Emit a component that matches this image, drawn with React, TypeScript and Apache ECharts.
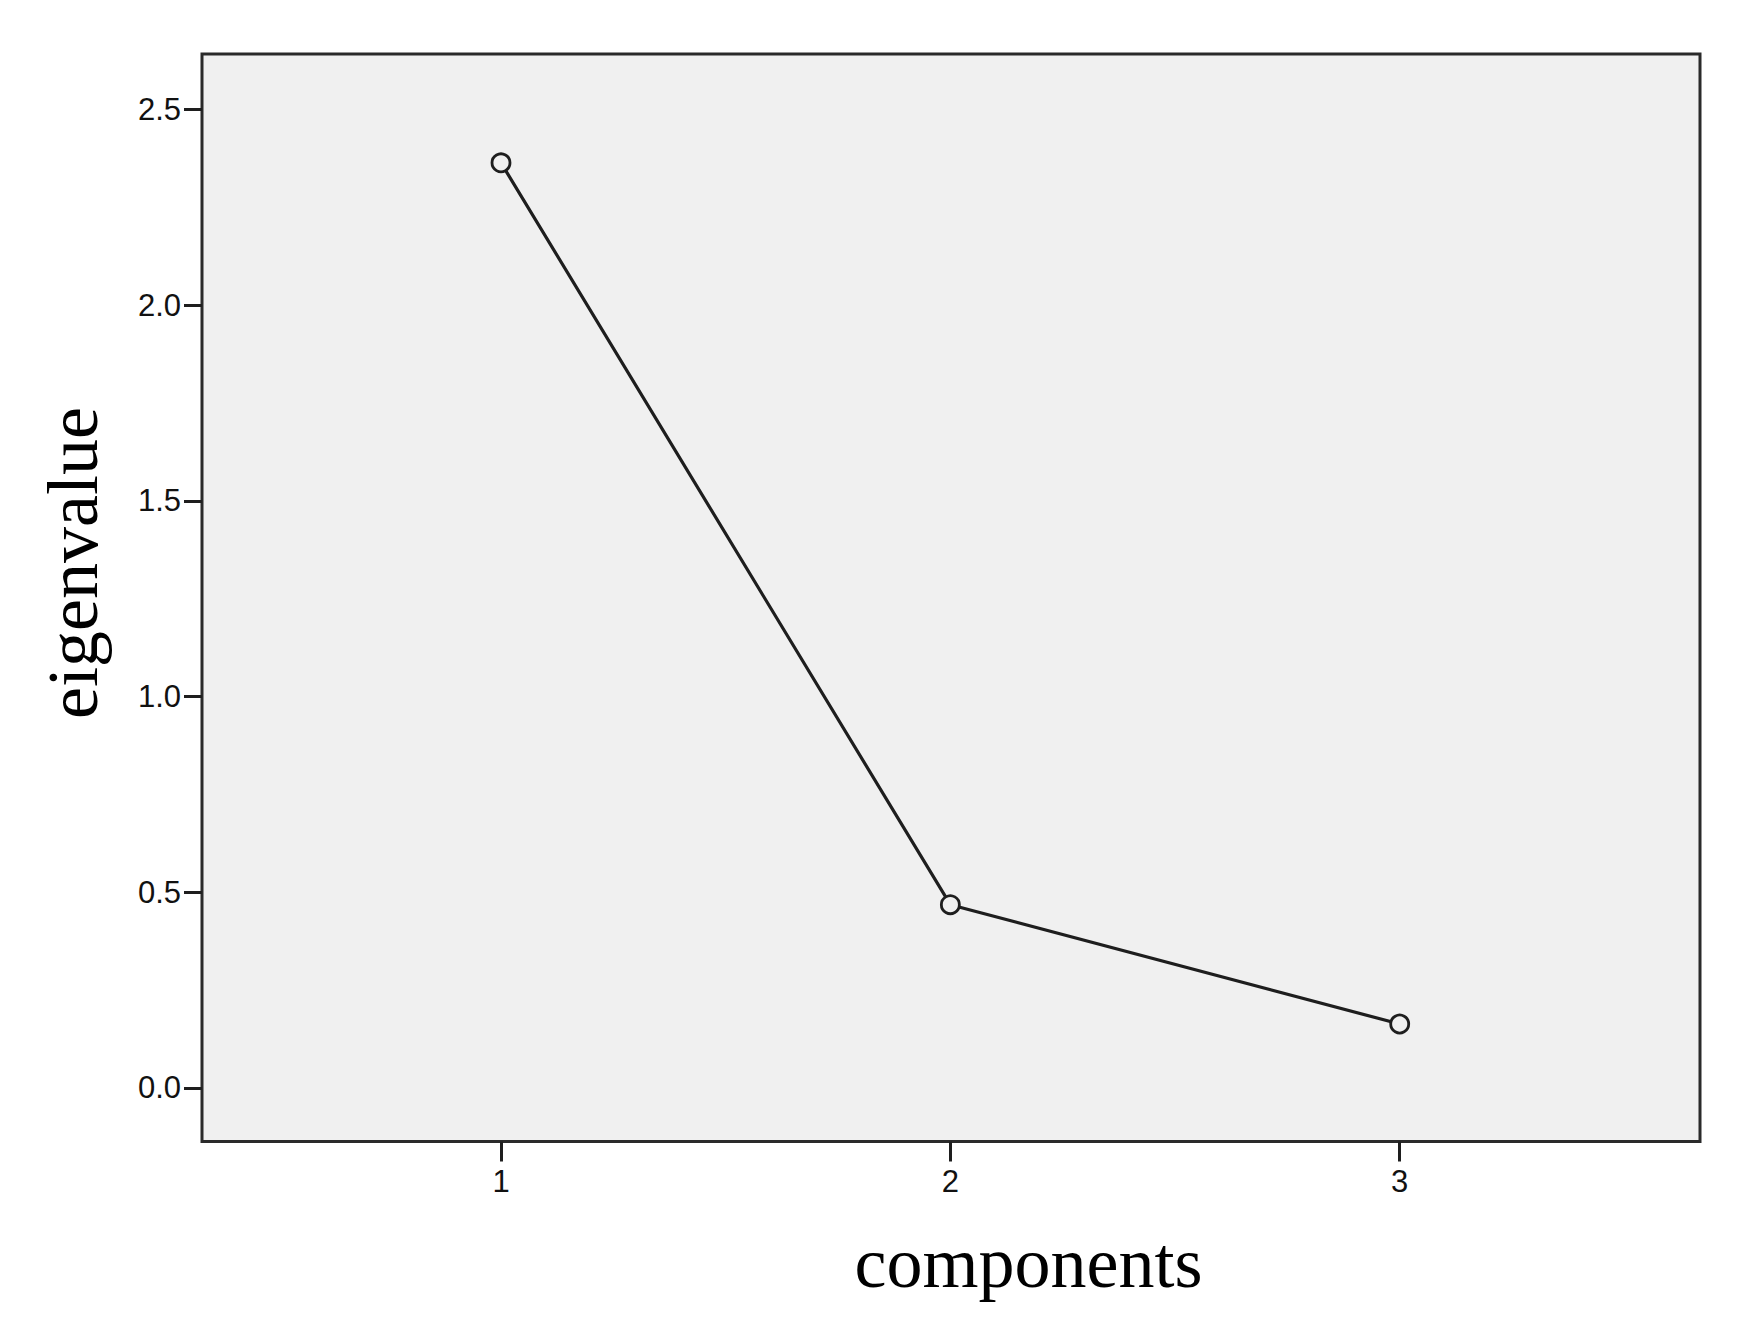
import React, { useEffect, useRef } from "react";
import * as echarts from "echarts";

const components = [1, 2, 3];
const eigenvalues = [2.364, 0.468, 0.163];
const yTicks = [0, 0.5, 1.0, 1.5, 2.0, 2.5];
const xTitle = "components";
const yTitle = "eigenvalue";

export default function App() {
  const ref = useRef<HTMLDivElement>(null);
  useEffect(() => {
    document.body.style.margin = "0";
    const chart = echarts.init(ref.current!, null, { renderer: "svg" });
    const sans = "'Liberation Sans', Arial, Helvetica, sans-serif";
    const serif = "'Liberation Serif', 'Times New Roman', serif";
    const tickStyle = { color: "#1e1e1e", width: 3 };
    const labelStyle = { color: "#111", fontSize: 31, fontFamily: sans };
    chart.setOption({
      animation: false,
      backgroundColor: "#ffffff",
      grid: [
        {
          left: 202,
          top: 54,
          width: 1498,
          height: 1087.5,
          show: true,
          backgroundColor: "#f0f0f0",
          borderColor: "#2a2a2a",
          borderWidth: 3,
        },
        { left: 501, top: 109.6, width: 898.7, height: 978.2 },
      ],
      xAxis: [
        { gridIndex: 0, type: "value", show: false, min: 0, max: 1 },
        {
          gridIndex: 1,
          type: "value",
          position: "bottom",
          min: components[0],
          max: components[components.length - 1],
          interval: 1,
          offset: 53.7,
          axisLine: { show: false, onZero: false },
          axisTick: { show: true, length: 20, lineStyle: tickStyle },
          splitLine: { show: false },
          axisLabel: { ...labelStyle, margin: 24, formatter: (v: number) => String(v) },
        },
      ],
      yAxis: [
        { gridIndex: 0, type: "value", show: false, min: 0, max: 1 },
        {
          gridIndex: 1,
          type: "value",
          position: "left",
          min: yTicks[0],
          max: yTicks[yTicks.length - 1],
          interval: 0.5,
          offset: 299,
          axisLine: { show: false, onZero: false },
          axisTick: { show: true, length: 18, lineStyle: tickStyle },
          splitLine: { show: false },
          axisLabel: { ...labelStyle, margin: 21, formatter: (v: number) => v.toFixed(1) },
        },
      ],
      series: [
        {
          type: "line",
          xAxisIndex: 1,
          yAxisIndex: 1,
          data: components.map((c, i) => [c, eigenvalues[i]]),
          symbol: "circle",
          symbolSize: 18,
          lineStyle: { color: "#1e1e1e", width: 3.2 },
          itemStyle: { color: "#f0f0f0", borderColor: "#1e1e1e", borderWidth: 2.8 },
          z: 5,
        },
      ],
      graphic: [
        {
          type: "text",
          x: 1028.5,
          y: 1263,
          style: {
            text: xTitle,
            fontSize: 72,
            fontFamily: serif,
            fill: "#000",
            textAlign: "center",
            textVerticalAlign: "middle",
          },
        },
        {
          type: "text",
          x: 73,
          y: 563,
          rotation: Math.PI / 2,
          style: {
            text: yTitle,
            fontSize: 72,
            fontFamily: serif,
            fill: "#000",
            textAlign: "center",
            textVerticalAlign: "middle",
          },
        },
      ],
    });
    return () => chart.dispose();
  }, []);
  return (
    <div
      ref={ref}
      style={{ position: "absolute", left: 0, top: 0, width: 1753, height: 1328 }}
    />
  );
}
